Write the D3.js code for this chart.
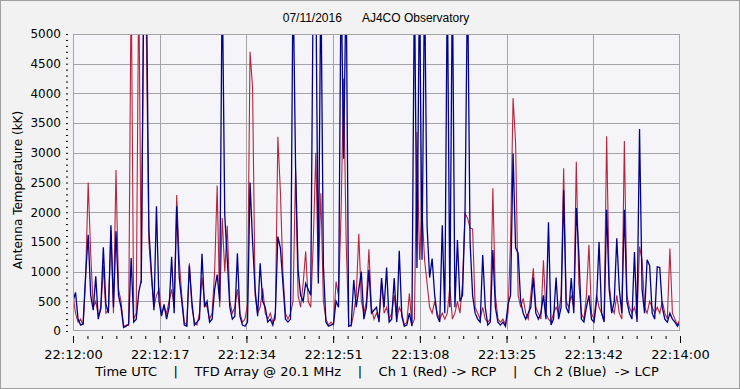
<!DOCTYPE html>
<html lang="en">
<head>
<meta charset="UTF-8">
<title>AJ4CO Observatory</title>
<style>
body {
  margin: 0;
  background: #f0f0f0;
}
svg {
  display: block;
}
text {
  font-family: 'DejaVu Sans', Verdana, sans-serif;
  font-size: 12px;
  fill: #000;
}
.title {
  font-family: 'Liberation Sans', Arial, sans-serif;
}
</style>
</head>
<body>
<div id="vis"></div>
<script src="https://d3js.org/d3.v7.min.js"></script>
<script>

// one sample every half second, 22:12:00 -> 22:14:00
const step = 0.5;

// Ch 1 (red, RCP), kK
const red = [
  600, 300, 150, 200, 100, 900, 2500, 1300, 400, 500,
  250, 350, 1100, 300, 350, 1700, 300, 2710, 700, 500,
  80, 100, 90, 6000, 200, 300, 6000, 800, 6000, 5000,
  1500, 900, 400, 600, 700, 300, 400, 300, 500, 700,
  400, 2290, 1200, 600, 150, 100, 1140, 400, 150, 100,
  300, 900, 500, 400, 200, 300, 1000, 2450, 400, 1900,
  1000, 1770, 500, 300, 400, 700, 300, 150, 200, 450,
  4700, 4100, 600, 300, 400, 720, 300, 200, 300, 150,
  200, 3270, 2350, 970, 300, 200, 300, 500, 2700, 600,
  400, 800, 1340, 500, 400, 1500, 3000, 900, 2320, 500,
  200, 100, 150, 100, 830, 600, 2000, 4250, 1500, 100,
  80, 300, 600, 1635, 500, 300, 500, 1376, 400, 200,
  300, 200, 830, 300, 400, 200, 300, 600, 200, 400,
  300, 100, 150, 635, 100, 200, 3350, 1200, 2040, 1200,
  800, 400, 300, 500, 300, 200, 300, 200, 300, 750,
  200, 300, 500, 300, 800, 1980, 1900, 1730, 1720, 400,
  300, 200, 400, 200, 150, 200, 2405, 600, 200, 150,
  200, 100, 300, 1530, 3920, 3160, 600, 400, 550, 300,
  200, 600, 1057, 400, 300, 200, 1190, 300, 200, 150,
  300, 400, 300, 600, 2740, 500, 400, 600, 400, 2850,
  800, 300, 200, 600, 1450, 300, 200, 600, 400, 300,
  200, 3280, 800, 400, 300, 600, 300, 200, 3200, 600,
  400, 300, 400, 200, 1420, 1200, 400, 300, 500, 400,
  300, 400, 300, 500, 300, 200, 1390, 300, 200, 100,
  200
];

// Ch 2 (blue, LCP), kK
const blue = [
  500, 650, 200, 100, 120, 950, 1620, 600, 350, 920,
  200, 400, 1410, 450, 300, 1780, 400, 1680, 600, 400,
  60, 80, 120, 1230, 150, 200, 650, 860, 6000, 6000,
  1700, 1000, 350, 2100, 500, 250, 450, 200, 400, 1250,
  300, 2100, 900, 500, 100, 80, 1100, 500, 100, 150,
  200, 1300, 400, 500, 150, 200, 700, 950, 500, 6000,
  1950, 1200, 400, 200, 250, 1310, 250, 100, 80, 150,
  2500, 1500, 700, 250, 1140, 500, 400, 150, 200, 100,
  300, 1590, 1400, 800, 200, 150, 200, 6000, 2770, 1030,
  600, 500, 800, 700, 600, 6000, 6000, 800, 6000, 1100,
  150, 80, 100, 120, 500, 400, 6000, 2900, 6000, 80,
  100, 860, 400, 700, 1000, 200, 400, 1030, 300, 350,
  400, 150, 890, 400, 1070, 150, 200, 890, 150, 1350,
  250, 80, 100, 300, 80, 6000, 1060, 6000, 1200, 6000,
  1760, 900, 1220, 600, 250, 150, 1780, 300, 6000, 400,
  6000, 400, 1530, 500, 600, 1980, 6000, 1500, 600, 300,
  200, 150, 1280, 400, 100, 150, 1365, 400, 150, 100,
  150, 80, 450, 600, 2990, 1400, 1310, 500, 300, 200,
  300, 400, 900, 300, 200, 300, 600, 200, 1830, 100,
  200, 900, 200, 400, 2370, 400, 300, 890, 300, 2070,
  1300, 200, 150, 400, 600, 200, 150, 500, 1500, 300,
  150, 2040, 700, 300, 500, 1560, 700, 300, 2040, 500,
  300, 200, 1330, 150, 3400, 700, 300, 1200, 1100, 300,
  200, 1080, 1070, 400, 200, 150, 300, 200, 150, 80,
  150
];

const timeLabels = ["22:12:00", "22:12:17", "22:12:34", "22:12:51",
                    "22:13:08", "22:13:25", "22:13:42", "22:14:00"];
const yTicks = [0, 500, 1000, 1500, 2000, 2500, 3000, 3500, 4000, 4500, 5000];

const width = 740;
const height = 389;
const plotLeft = 73, plotRight = 680, plotTop = 34, plotBottom = 331;
const nb = "\u00a0";

let svg = d3.select("#vis").append("svg")
    .attr("width", width)
    .attr("height", height);

// window frame
svg.append("rect")
    .attr("x", 0.5).attr("y", 0.5)
    .attr("width", width - 1).attr("height", height - 1)
    .style("fill", "#f2f2f2")
    .style("stroke", "#a0a0a0");

let xScale = d3.scaleLinear()
    .domain([0, 120])
    .range([plotLeft, plotRight]);
let yScale = d3.scaleLinear()
    .domain([0, 5000])
    .range([plotBottom, plotTop]);

const majorX = timeLabels.map(function(d, i){ return i * 120 / 7; });
const minorX = d3.range(0, 43).map(function(i){ return i * 120 / 42; });

svg.append("rect")
    .attr("x", plotLeft).attr("y", plotTop)
    .attr("width", plotRight - plotLeft).attr("height", plotBottom - plotTop)
    .style("fill", "#f5f5f9");

// grid
svg.append("g").selectAll("line")
    .data(yTicks.slice(1, -1))
    .enter().append("line")
    .attr("x1", plotLeft).attr("x2", plotRight)
    .attr("y1", function(d){ return Math.round(yScale(d)) + 0.5; })
    .attr("y2", function(d){ return Math.round(yScale(d)) + 0.5; })
    .style("stroke", "#a4a4a4");
svg.append("g").selectAll("line")
    .data(majorX.slice(1, -1))
    .enter().append("line")
    .attr("y1", plotTop).attr("y2", plotBottom)
    .attr("x1", function(d){ return Math.round(xScale(d)) + 0.5; })
    .attr("x2", function(d){ return Math.round(xScale(d)) + 0.5; })
    .style("stroke", "#a4a4a4");

svg.append("clipPath").attr("id", "plot")
  .append("rect")
    .attr("x", plotLeft).attr("y", plotTop)
    .attr("width", plotRight - plotLeft).attr("height", plotBottom - plotTop);

let line = d3.line()
    .x(function(d, i){ return xScale(i * step); })
    .y(function(d){ return yScale(d); });

svg.append("path")
    .datum(red)
    .attr("clip-path", "url(#plot)")
    .attr("d", line)
    .style("fill", "none")
    .style("stroke", "#b8243c")
    .style("stroke-width", 1.1);

svg.append("path")
    .datum(blue)
    .attr("clip-path", "url(#plot)")
    .attr("d", line)
    .style("fill", "none")
    .style("stroke", "#00008c")
    .style("stroke-width", 1.3);

svg.append("rect")
    .attr("x", plotLeft + 0.5).attr("y", plotTop + 0.5)
    .attr("width", plotRight - plotLeft - 1).attr("height", plotBottom - plotTop - 1)
    .style("fill", "none")
    .style("stroke", "#a4a4a4");

// x axis: major and minor ticks
let xMinor = svg.append("g")
    .attr("transform", "translate(0,336)")
    .call(d3.axisBottom(xScale).tickValues(minorX).tickSize(3).tickFormat(""));
let xAxis = svg.append("g")
    .attr("transform", "translate(0,336)")
    .call(d3.axisBottom(xScale)
      .tickValues(majorX)
      .tickSize(7)
      .tickPadding(7)
      .tickFormat(function(d, i){ return timeLabels[i]; }));

// y axis
let yAxis = svg.append("g")
    .attr("transform", "translate(68,0)")
    .call(d3.axisLeft(yScale)
      .tickValues(d3.range(0, 5001, 100))
      .tickSize(2)
      .tickPadding(5)
      .tickFormat(function(d){ return d % 500 === 0 ? d : ""; }));

svg.selectAll(".domain").remove();
svg.selectAll(".tick line").style("stroke", "#000");
svg.selectAll(".tick text")
    .style("font-family", "'DejaVu Sans', Verdana, sans-serif")
    .style("font-size", "12px");
xAxis.selectAll(".tick text")
    .style("font-size", "13px");

svg.append("text")
    .attr("class", "title")
    .attr("x", 376)
    .attr("y", 22)
    .attr("text-anchor", "middle")
    .text("07/11/2016" + nb.repeat(6) + "AJ4CO Observatory");

svg.append("text")
    .attr("transform", "translate(22,190) rotate(-90)")
    .attr("text-anchor", "middle")
    .text("Antenna Temperature (kK)");

const sep = nb.repeat(4) + "|" + nb.repeat(4);
svg.append("text")
    .attr("x", 377)
    .attr("y", 376)
    .attr("text-anchor", "middle")
    .style("font-size", "13px")
    .text("Time UTC" + sep + "TFD Array @ 20.1 MHz" + sep + "Ch 1 (Red) -> RCP" + sep +
          "Ch 2 (Blue)" + nb + nb + "-> LCP");

</script>
</body>
</html>
